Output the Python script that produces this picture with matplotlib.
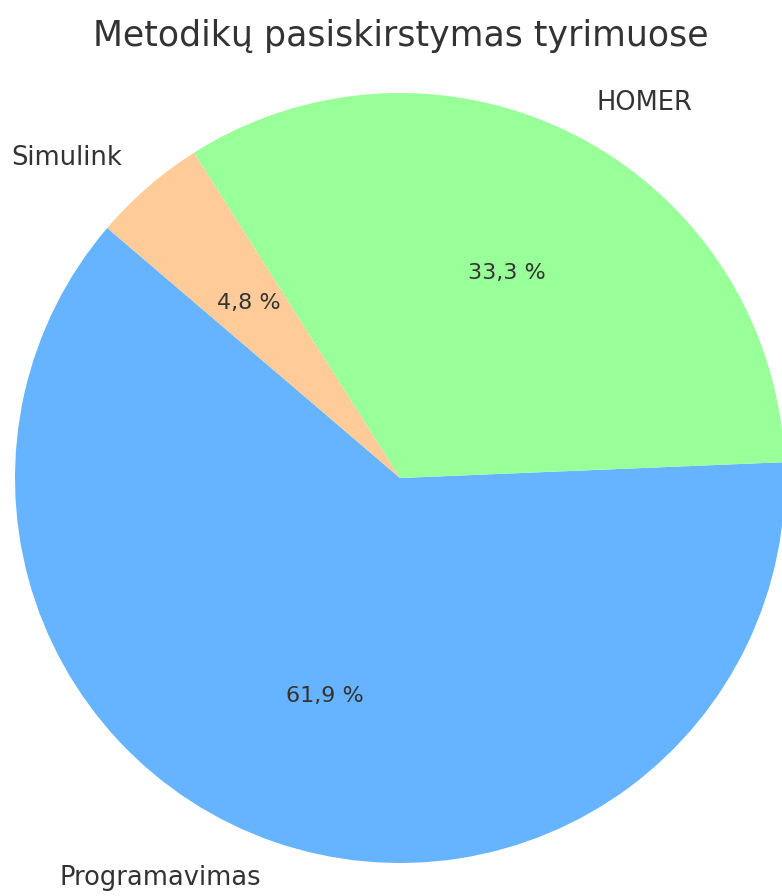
import matplotlib
matplotlib.use("Agg")
import matplotlib.pyplot as plt

# study counts per method
methods = ["Programavimas", "HOMER", "Simulink"]
counts = [13, 7, 1]
colors = ["#66b3ff", "#99ff99", "#ffcc99"]

fig = plt.figure(figsize=(7.82, 8.96), dpi=100)
ax = fig.add_axes([15 / 782, 33 / 896, 770 / 782, 770 / 896])

wedges, texts, autotexts = ax.pie(
    counts,
    labels=methods,
    colors=colors,
    autopct=lambda p: ("%1.1f %%" % p).replace(".", ","),
    startangle=139.5,
    labeldistance=1.1,
    pctdistance=0.6,
    textprops={"fontsize": 18.5, "color": "#333333"},
)
for t in autotexts:
    t.set_fontsize(16)

ax.set_xlim(-1, 1)
ax.set_ylim(-1, 1)
ax.set_aspect("equal")

fig.text(401 / 782, 1 - 36 / 896, "Metodikų pasiskirstymas tyrimuose",
         fontsize=25, color="#333333", ha="center", va="center")

fig.savefig("out.png", dpi=100)
